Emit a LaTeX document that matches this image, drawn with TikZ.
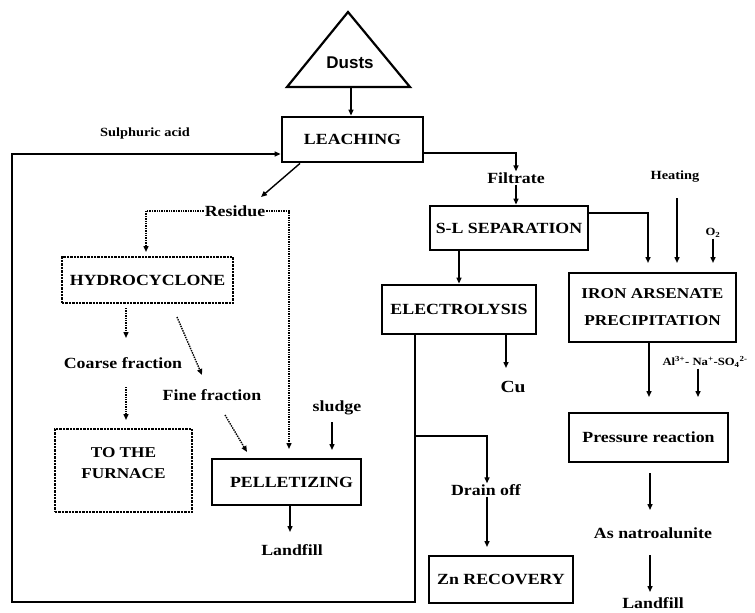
\documentclass[tikz,border=0pt]{standalone}
\usepackage{fontspec}
\setmainfont{Liberation Serif}
\newfontfamily\lbl{Liberation Serif}[FakeStretch=1.15]
\newfontfamily\dustfont{Liberation Sans}
\usetikzlibrary{arrows.meta}
\begin{document}
\begin{tikzpicture}[x=1pt,y=-1pt,
  arr/.style={line width=1.4pt,-{Triangle[length=6pt,width=5pt]}},
  darr/.style={line width=1.4pt,densely dotted,-{Triangle[length=6pt,width=5pt]}},
  mainfont/.style={font=\lbl\bfseries\fontsize{15.5}{18}\selectfont},
  procbox/.style={draw,line width=2.8pt,inner sep=0pt,align=center,mainfont},
  dotbox/.style={draw,line width=2.4pt,densely dotted,inner sep=0pt,align=center,mainfont},
  lab/.style={inner sep=1pt,mainfont},
  small/.style={inner sep=1pt,font=\lbl\bfseries\fontsize{12.5}{15}\selectfont},
  tiny/.style={inner sep=1pt,font=\lbl\bfseries\fontsize{11}{12}\selectfont}]
\useasboundingbox (0,0) rectangle (755,613);

% feed triangle
\draw[line width=2.2pt,line join=miter] (287,87) -- (348,12) -- (410,87) -- cycle;
\node[inner sep=0pt,font=\dustfont\bfseries\fontsize{17}{20}\selectfont] (dusts) at (350,63) {Dusts};
\coordinate (tb) at (351,87);

% process boxes
\node[procbox,minimum width=141pt,minimum height=45pt] (leach) at (352.5,139.5) {LEACHING};
\node[procbox,minimum width=158pt,minimum height=44pt] (sl) at (509,228) {S-L SEPARATION};
\node[procbox,minimum width=154pt,minimum height=49pt] (elec) at (459,309.5) {ELECTROLYSIS};
\node[procbox,minimum width=167pt,minimum height=69pt,font=\lbl\bfseries\fontsize{15}{27}\selectfont] (iron) at (652.5,307.5) {IRON ARSENATE\\PRECIPITATION};
\node[procbox,minimum width=159pt,minimum height=49pt] (press) at (648.5,437.5) {Pressure reaction};
\node[procbox,minimum width=144pt,minimum height=47pt] (zn) at (501,579.5) {Zn RECOVERY};
\node[procbox,minimum width=149pt,minimum height=46pt] (pellet) at (286.5,482) {\hspace*{10pt}PELLETIZING};
\node[dotbox,minimum width=171pt,minimum height=46pt] (hydro) at (147.5,280) {HYDROCYCLONE};
\node[dotbox,minimum width=137pt,minimum height=83pt] (furn) at (123.5,470.5) {};
\node[inner sep=0pt,align=center,font=\lbl\bfseries\fontsize{15}{21}\selectfont] (furntxt) at ([yshift=7pt]furn.center) {TO THE\\FURNACE};

% stream labels
\node[small] (sulph) at (145,133) {Sulphuric acid};
\node[lab] (filt) at (516,178) {Filtrate};
\node[small] (heat) at (675,177) {Heating};
\node[tiny] (o2) at (713,233) {O\textsubscript{2}};
\node[lab] (resid) at (235,211) {Residue};
\node[lab] (coarse) at (123,363) {Coarse fraction};
\node[lab] (fine) at (212,395) {Fine fraction};
\node[lab] (sludge) at (337,408) {sludge};
\node[lab] (land1) at (292,550) {Landfill};
\node[inner sep=1pt,font=\lbl\bfseries\fontsize{17}{20}\selectfont] (cu) at (513,387) {Cu};
\node[tiny] (alna) at (705,362) {Al\textsuperscript{3+}- Na\textsuperscript{+}-SO\textsubscript{4}\textsuperscript{2-}};
\node[lab] (drain) at (486,490) {Drain off};
\node[lab] (natro) at (653,533) {As natroalunite};
\node[lab] (land2) at (653,603) {Landfill};

% arrow tip points
\coordinate (loopA) at (415,602);
\coordinate (loopB) at (12,602);
\coordinate (br) at (415,436);
\coordinate (cuTip) at (506,368);
\coordinate (slTip) at (648,263);
\coordinate (heatTop) at (677,198);
\coordinate (heatTip) at (677,263);
\coordinate (o2Tip) at (713,263);
\coordinate (ironTip) at (649,397);
\coordinate (alTip) at (698,397);
\coordinate (pTop) at (650,473);
\coordinate (pTip) at (650,510);
\coordinate (nTop) at (650,555);
\coordinate (nTip) at (650,592);
\coordinate (znTip) at (487,547);
\coordinate (resTip) at (261,197);
\coordinate (hydTip) at (146,252);
\coordinate (pelTip) at (289,449);
\coordinate (coTop) at (126,308);
\coordinate (coTip) at (126,338);
\coordinate (fiTop) at (177,317);
\coordinate (fiTip) at (202,375);
\coordinate (cfTop) at (126,387);
\coordinate (cfTip) at (126,420);
\coordinate (fpTop) at (225,415);
\coordinate (fpTip) at (247,452);
\coordinate (sgTop) at (332,422);
\coordinate (sgTip) at (332,450);
\coordinate (lfTip) at (290,532);

% solid connectors
\draw[arr] (tb) -- (leach.north -| tb);
\draw[arr] (elec.south -| loopA) -- (loopA) -- (loopB) |- ([yshift=-14.5pt]leach.west);
\draw[arr] (br) -| (drain.north -| znTip);
\draw[arr] (drain.south -| znTip) -- (znTip);
\draw[arr] ([yshift=-13.5pt]leach.east) -| (filt.north);
\draw[arr] (filt.south) -- (filt.south |- sl.north);
\draw[arr] ([yshift=15pt]sl.east) -| (slTip);
\draw[arr] (heatTop) -- (heatTip);
\draw[arr] (o2.south) -- (o2Tip);
\draw[arr] (elec.north |- sl.south) -- (elec.north);
\draw[arr] (elec.south -| cuTip) -- (cuTip);
\draw[arr] (iron.south -| ironTip) -- (ironTip);
\draw[arr] (alna.south -| alTip) -- (alTip);
\draw[arr] (pTop) -- (pTip);
\draw[arr] (nTop) -- (nTip);
\draw[arr] ([xshift=-52.5pt]leach.south) -- (resTip);
\draw[arr] (sgTop) -- (sgTip);
\draw[arr] (pellet.south -| lfTip) -- (lfTip);

% dotted connectors
\draw[darr] (resid.west) -| (hydTip);
\draw[darr] (resid.east) -| (pelTip);
\draw[darr] (coTop) -- (coTip);
\draw[darr] (fiTop) -- (fiTip);
\draw[darr] (cfTop) -- (cfTip);
\draw[darr] (fpTop) -- (fpTip);
\end{tikzpicture}
\end{document}
